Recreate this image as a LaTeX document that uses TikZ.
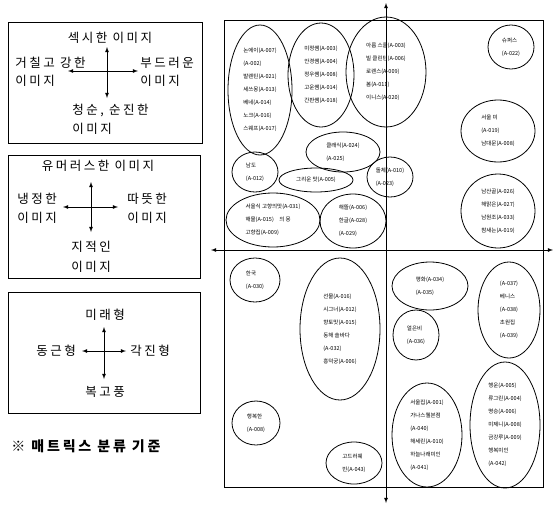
\documentclass[tikz,border=0pt]{standalone}
\usepackage{fontspec}
\setmainfont{Noto Sans CJK KR}
\newfontfamily\lblfont[LetterSpace=20]{Noto Sans CJK KR}
\usetikzlibrary{shapes,shapes.geometric,calc,positioning}

\begin{document}
\begin{tikzpicture}
	[x=1pt,y=-1pt,>=latex,thick,
	lbl/.style={inner sep=0pt,font=\lblfont\fontsize{12.5}{14}\selectfont},
	box/.style={draw,semithick,inner sep=0pt},
	grp/.style={shape=ellipse,draw,thick,inner sep=0pt,align=left,
		font=\fontsize{5.5}{13}\selectfont}]
	\useasboundingbox (0,0) rectangle (553,506);
	% left: the three criteria boxes
	\node[box,minimum width=194,minimum height=121] (b1) at (105,82.5) {};
	\node[lbl] (s1) at (110,38) {섹시한 이미지};
	\node[lbl,anchor=west] (s2) at (15,63) {거칠고 강한};
	\node[lbl,anchor=west] (s3) at (15,81) {이미지};
	\node[lbl,anchor=west] (s4) at (140,63) {부드러운};
	\node[lbl,anchor=west] (s5) at (140,81) {이미지};
	\node[lbl,anchor=west] (s6) at (72,110) {청순, 순진한};
	\node[lbl,anchor=west] (s7) at (72,129) {이미지};
	\coordinate (c1n) at (107,47); \coordinate (c1s) at (107,98);
	\coordinate (c1w) at (68,71); \coordinate (c1e) at (138,71);
	\draw [<->] (c1n) to (c1s);
	\draw [<->] (c1w) to (c1e);

	\node[box,minimum width=192,minimum height=123] (b2) at (104,216.5) {};
	\node[lbl] (h1) at (98,166) {유머러스한 이미지};
	\node[lbl,anchor=west] (h2) at (17,199) {냉정한};
	\node[lbl,anchor=west] (h3) at (17,218) {이미지};
	\node[lbl,anchor=west] (h4) at (127,199) {따뜻한};
	\node[lbl,anchor=west] (h5) at (127,218) {이미지};
	\node[lbl] (h6) at (91,247) {지적인};
	\node[lbl] (h7) at (91,267) {이미지};
	\coordinate (c2n) at (91,182); \coordinate (c2s) at (91,232);
	\coordinate (c2w) at (63,207); \coordinate (c2e) at (118,207);
	\draw [<->] (c2n) to (c2s);
	\draw [<->] (c2w) to (c2e);

	\node[box,minimum width=192,minimum height=121] (b3) at (104,352.5) {};
	\node[lbl] (f1) at (105,315) {미래형};
	\node[lbl] (f2) at (56,351) {동근형};
	\node[lbl] (f3) at (150,351) {각진형};
	\node[lbl] (f4) at (105,392) {복고풍};
	\coordinate (c3n) at (104,327); \coordinate (c3s) at (104,379);
	\coordinate (c3w) at (82,351); \coordinate (c3e) at (126,351);
	\draw [<->] (c3n) to (c3s);
	\draw [<->] (c3w) to (c3e);
	\node[lbl,anchor=west,font=\lblfont\fontsize{14}{16}\bfseries] (note) at (11,446)
		{※ 매트릭스 분류 기준};

	% right: the matrix
	\node[box,thick,minimum width=319,minimum height=467] (frame) at (383.5,253.5) {};
	\coordinate (top) at (386,3); \coordinate (bot) at (386,503);
	\coordinate (lft) at (211,250); \coordinate (rgt) at (553,250);
	\draw [<->] (top) to (bot);
	\draw [<->] (lft) to (rgt);

	\node[grp,minimum width=64,minimum height=130] (g1) at (260,90)
		{논에이(A-007)\\(A-002)\\발렌틴(A-021)\\세쓰몽(A-013)\\베네(A-014)\\노크(A-016)\\스웨프(A-017)};
	\node[grp,minimum width=66,minimum height=104] (g2) at (321,75)
		{미정쌤(A-003)\\안경쌤(A-004)\\정우쌤(A-008)\\고운쌤(A-014)\\간판쌤(A-018)};
	\node[grp,minimum width=80,minimum height=110] (g3) at (386,72)
		{아름 스쿨(A-003)\\빌 클린턴(A-006)\\로렌스(A-009)\\봄(A-011)\\이니스(A-020)};
	\node[grp,minimum width=46,minimum height=44] (g4) at (511,47)
		{슈퍼스\\(A-022)};
	\node[grp,minimum width=74,minimum height=62] (g5) at (498,131)
		{서울 미\\(A-019)\\남대문(A-008)};
	\node[grp,minimum width=74,minimum height=74] (g6) at (498,211)
		{남산골(A-026)\\해맑은(A-027)\\남원조(A-033)\\참새는(A-019)};
	\node[grp,minimum width=74,minimum height=40] (g7) at (343,152)
		{클래식(A-024)\\(A-025)};
	\node[grp,minimum width=46,minimum height=40] (g8) at (255,172)
		{남도\\(A-012)};
	\node[grp,minimum width=74,minimum height=24] (g9) at (316,180)
		{그리운 맛(A-005)};
	\node[grp,minimum width=46,minimum height=40] (g10) at (390,177)
		{돌체(A-010)\\(A-023)};
	\node[grp,minimum width=94,minimum height=54] (g11) at (273,220)
		{서울식 고향의맛(A-031)\\해물(A-015)\quad 의 몽\\고향집(A-009)};
	\node[grp,minimum width=66,minimum height=54] (g12) at (353,221)
		{해뜰(A-006)\\한글(A-028)\\(A-029)};

	\node[grp,minimum width=50,minimum height=44] (g13) at (255,280)
		{한국\\(A-030)};
	\node[grp,minimum width=80,minimum height=142] (g14) at (340,329)
		{선물(A-016)\\시그너(A-012)\\향토맛(A-015)\\동해 솔바다\\(A-032)\\흥덕궁(A-006)};
	\node[grp,minimum width=76,minimum height=48] (g15) at (430,286)
		{평화(A-034)\\(A-035)};
	\node[grp,minimum width=46,minimum height=50] (g16) at (416,335)
		{얼은비\\(A-036)};
	\node[grp,minimum width=62,minimum height=96] (g17) at (509,310)
		{(A-037)\\베니스\\(A-038)\\초원집\\(A-039)};
	\node[grp,minimum width=70,minimum height=104] (g18) at (427,435)
		{서울집(A-001)\\가나스웰본점\\(A-040)\\해세린(A-010)\\하늘나래미인\\(A-041)};
	\node[grp,minimum width=70,minimum height=126] (g19) at (505,425)
		{행운(A-005)\\류그린(A-004)\\명승(A-006)\\미제니(A-008)\\금강루(A-009)\\행복미인\\(A-042)};
	\node[grp,minimum width=48,minimum height=44] (g20) at (256,423)
		{행복한\\(A-008)};
	\node[grp,minimum width=56,minimum height=42] (g21) at (354,463)
		{고드러웨\\빈(A-043)};
\end{tikzpicture}
\end{document}
